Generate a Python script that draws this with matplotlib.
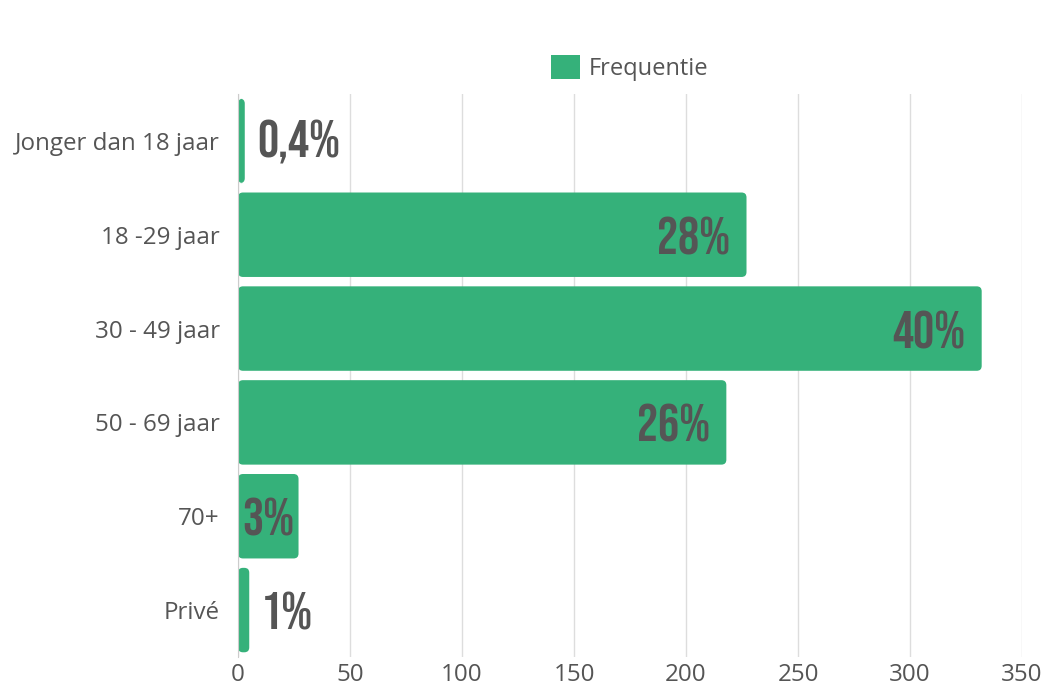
import matplotlib.pyplot as plt
from matplotlib.patches import FancyBboxPatch, Patch
from matplotlib.transforms import offset_copy

categories = ["Jonger dan 18 jaar", "18 -29 jaar", "30 - 49 jaar", "50 - 69 jaar", "70+", "Privé"]
values = [3, 227, 332, 218, 27, 5]
pct_labels = ["0,4%", "28%", "40%", "26%", "3%", "1%"]

green = "#35b17a"
grey_text = "#555555"

plt.rcParams['font.family'] = ['Open Sans', 'DejaVu Sans']

fig = plt.figure(figsize=(10.45, 6.84), dpi=100)
ax = fig.add_axes([0.2278, 0.0395, 0.7502, 0.8231])

y = list(range(len(categories)))
bars = ax.barh(y, values, height=0.9, color=green)

# rounded corners: swap each bar for a rounded box
x_px_per_unit = 784 / 350
y_px_per_unit = 93.6
for b in bars:
    b.set_visible(False)
    patch = FancyBboxPatch((b.get_x(), b.get_y()), b.get_width(), b.get_height(),
                           boxstyle="round,pad=0,rounding_size=2.2",
                           mutation_aspect=x_px_per_unit / y_px_per_unit,
                           facecolor=green, edgecolor="none", zorder=2)
    ax.add_patch(patch)

ax.set_xlim(0, 350)
ax.set_ylim(len(categories) - 0.5, -0.5)
ax.set_xticks(range(0, 351, 50))
ax.set_yticks(y)
ax.set_yticklabels(categories)

ax.grid(axis='x', color='#dddddd', linewidth=1, zorder=0)
ax.set_axisbelow(True)
for side in ['top', 'right', 'bottom']:
    ax.spines[side].set_visible(False)
ax.spines['left'].set_color('#cccccc')
ax.spines['left'].set_zorder(3)
ax.tick_params(axis='y', length=0, pad=13, labelsize=17.4, labelcolor='#555555')
ax.tick_params(axis='x', length=0, pad=4, labelsize=17.4, labelcolor='#555555')

label_font = dict(family=['Bebas Neue', 'Oswald', 'Barlow Condensed', 'DejaVu Sans'],
                  fontweight='semibold', fontsize=38, color=grey_text, va='center')
for yi, v, lab in zip(y, values, pct_labels):
    if v * x_px_per_unit > 100:
        tr = offset_copy(ax.transData, fig=fig, x=-16, y=-1, units='dots')
        ax.text(v, yi, lab, ha='right', transform=tr, **label_font)
    elif v > 10:
        tr = offset_copy(ax.transData, fig=fig, x=4, y=-1, units='dots')
        ax.text(0, yi, lab, ha='left', transform=tr, **label_font)
    else:
        tr = offset_copy(ax.transData, fig=fig, x=12, y=-1, units='dots')
        ax.text(v, yi, lab, ha='left', transform=tr, **label_font)

handle = Patch(facecolor=green, edgecolor='none')
ax.legend([handle], ["Frequentie"], loc='center', bbox_to_anchor=(0.5, 1.0 + 26 / 563),
          frameon=False, fontsize=17, labelcolor='#555555',
          handlelength=1.2, handleheight=1.2, handletextpad=0.4)

fig.savefig("out.png", dpi=100)
